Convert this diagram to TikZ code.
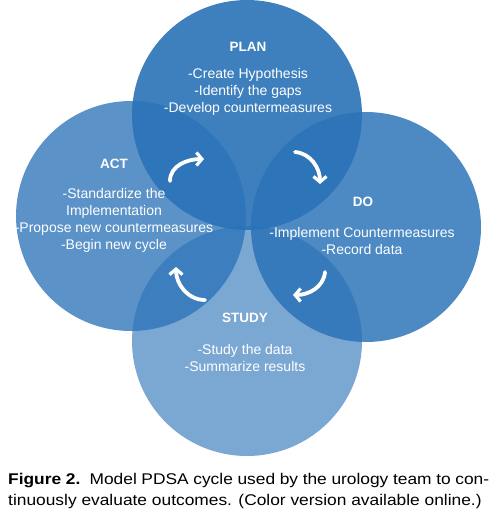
\documentclass[tikz,border=0pt]{standalone}
\usepackage{fontspec}
\setmainfont{Liberation Sans}
\newfontfamily\fuentepie[FakeStretch=1.12]{Liberation Sans}
\usetikzlibrary{arrows.meta}

\definecolor{pdsablue}{HTML}{2A72B8}

\begin{document}
\begin{tikzpicture}[x=1pt,y=-1pt,
  every node/.style={inner sep=0pt},
  ciclo/.style={circle,minimum size=230pt,fill=pdsablue},
  titulo/.style={text=white,font=\fontsize{13.5}{17}\selectfont\bfseries},
  cuerpo/.style={text=white,align=center,font=\fontsize{14}{17}\selectfont},
  giro/.style={draw=white,line width=3.8pt,line cap=round,-{Straight Barb[length=5.5pt,width=13pt,line width=3.2pt]}},
  pie/.style={anchor=base west,font=\fuentepie\fontsize{15.5}{21}\selectfont}]
  \useasboundingbox[fill=white] (0,0) rectangle (500,512);

  % Círculos de las cuatro fases
  \node[ciclo,fill opacity=.62] (cstudy) at (247,341) {};
  \node[ciclo,fill opacity=.77] (cact) at (131,216) {};
  \node[ciclo,fill opacity=.83] (cdo) at (366,227) {};
  \node[ciclo,fill opacity=.90] (cplan) at (247,115) {};

  % Títulos de las fases
  \node[titulo] (tplan) at (248,47) {PLAN};
  \node[titulo] (tact) at (114,164) {ACT};
  \node[titulo] (tdo) at (363,202) {DO};
  \node[titulo] (tstudy) at (245,318) {STUDY};

  % Textos de cada fase
  \node[cuerpo] (lplan) at (248,92) {-Create Hypothesis\\-Identify the gaps\\-Develop countermeasures};
  \node[cuerpo] (lact) at (114,220) {-Standardize the\\Implementation\\-Propose new countermeasures\\-Begin new cycle};
  \node[cuerpo] (ldo) at (362,241) {-Implement Countermeasures\\-Record data};
  \node[cuerpo] (lstudy) at (245,358) {-Study the data\\-Summarize results};

  % Extremos de las flechas del ciclo
  \coordinate (a1) at (170,181);
  \coordinate (b1) at (204,159);
  \coordinate (a2) at (295,152);
  \coordinate (b2) at (320,184);
  \coordinate (a3) at (325,272);
  \coordinate (b3) at (293,295);
  \coordinate (a4) at (205,300);
  \coordinate (b4) at (176,267);

  % Flechas del ciclo
  \draw[giro] (a1) to[out=90,in=180] (b1);
  \draw[giro] (a2) to[out=-5,in=90] (b2);
  \draw[giro] (a3) to[out=-95,in=0] (b3);
  \draw[giro] (a4) to[out=180,in=-90] (b4);

  % Pie de figura
  \node[pie] (pie1) at (8,484)
    {\makebox[481pt][s]{\textbf{Figure 2.}\ \ Model PDSA cycle used by the urology team to con-}};
  \node[pie] (pie2) at (8,505)
    {tinuously evaluate outcomes. (Color version available online.)};
\end{tikzpicture}
\end{document}
